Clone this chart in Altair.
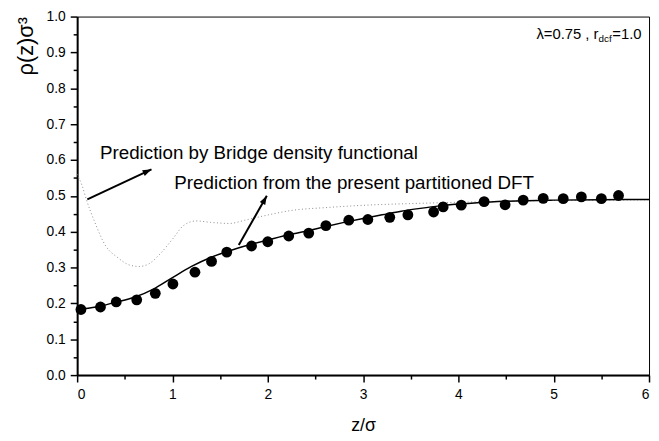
import altair as alt
import pandas as pd

# Scatter (simulation) points
dots_x = [0.04, 0.245, 0.41, 0.625, 0.82, 1.005, 1.236, 1.41, 1.57, 1.83, 2.0, 2.22, 2.43, 2.61,
          2.85, 3.05, 3.28, 3.47, 3.74, 3.84, 4.03, 4.27, 4.49, 4.68, 4.89, 5.1, 5.29, 5.5, 5.68]
dots_y = [0.183, 0.19, 0.204, 0.21, 0.228, 0.254, 0.287, 0.317, 0.343, 0.36, 0.372, 0.388, 0.396, 0.417,
          0.432, 0.434, 0.44, 0.447, 0.455, 0.469, 0.474, 0.484, 0.475, 0.488, 0.493, 0.492, 0.497, 0.492, 0.501]

# Present partitioned DFT (solid)
pdft_x = [0.0, 0.2, 0.4, 0.6, 0.8, 1.0, 1.2, 1.4, 1.6, 1.8, 2.0, 2.2, 2.4, 2.6, 2.8, 3.0, 3.2, 3.4,
          3.6, 3.8, 4.0, 4.2, 4.5, 5.0, 5.5, 6.0]
pdft_y = [0.183, 0.19, 0.203, 0.217, 0.24, 0.272, 0.303, 0.328, 0.347, 0.363, 0.377, 0.39, 0.401, 0.414,
          0.426, 0.437, 0.447, 0.457, 0.465, 0.472, 0.477, 0.481, 0.485, 0.488, 0.489, 0.49]

# Bridge density functional (dotted)
bdf_x = [0.0, 0.05, 0.1, 0.18, 0.3, 0.42, 0.55, 0.65, 0.75, 0.87, 1.0, 1.12, 1.25, 1.4, 1.6, 1.76,
         1.94, 2.27, 2.6, 2.96, 3.58, 4.0, 4.5, 5.0, 5.5, 6.0]
bdf_y = [0.56, 0.53, 0.487, 0.43, 0.36, 0.329, 0.307, 0.303, 0.31, 0.338, 0.379, 0.418, 0.43, 0.426,
         0.423, 0.432, 0.443, 0.46, 0.467, 0.473, 0.479, 0.482, 0.485, 0.487, 0.488, 0.489]

# Annotations
notes_text = ["Prediction by Bridge density functional", "Prediction from the present partitioned DFT"]
notes_x = [0.24, 1.02]
notes_y = [0.618, 0.536]

arrow_x = [0.107, 1.696]
arrow_y = [0.49, 0.363]
arrow_x2 = [0.78, 1.99]
arrow_y2 = [0.574, 0.5]
arrow_angle = [65, 29]

param_x = [5.47]
param_y = [0.95]

x_ticks = [i * 0.5 for i in range(13)]
y_ticks = [round(i * 0.05, 2) for i in range(21)]

FONT = "Liberation Sans"

xs = alt.Scale(domain=[0, 6], nice=False, zero=False)
ys = alt.Scale(domain=[0, 1], nice=False, zero=False)

Y_MAJOR = "abs(datum.value * 10 - round(datum.value * 10)) < 0.001"

x_axis = alt.Axis(
    values=x_ticks, title="z/σ", titleFont=FONT, titleFontSize=18, titleFontWeight="normal",
    titleColor="black", titleY=51, titleBaseline="middle",
    labelExpr="datum.value % 1 == 0 ? format(datum.value, 'd') : ''",
    labelFont=FONT, labelFontSize=14, labelColor="black", labelPadding=6, labelOverlap=False,
    tickSize={"condition": {"test": "datum.value % 1 == 0", "value": 7}, "value": 4},
    tickColor="black", tickWidth=1.5, domainColor="black", domainWidth=2, grid=False,
)
y_axis = alt.Axis(
    values=y_ticks, title="ρ(z)σ³", titleFont=FONT, titleFontSize=22, titleFontWeight="normal",
    titleColor="black", titleAnchor="end", titleAngle=270, titleAlign="right",
    titleX=-52, titleY=0, titleBaseline="middle",
    labelExpr=Y_MAJOR + " ? format(datum.value, '.1f') : ''",
    labelFont=FONT, labelFontSize=14, labelColor="black", labelPadding=5, labelOverlap=False,
    tickSize={"condition": {"test": Y_MAJOR, "value": 7}, "value": 4},
    tickColor="black", tickWidth=1.5, domainColor="black", domainWidth=2, grid=False,
)

X = alt.X("x:Q", scale=xs, axis=x_axis)
Y = alt.Y("y:Q", scale=ys, axis=y_axis)

dots_df = pd.DataFrame({"x": dots_x, "y": dots_y})
pdft_df = pd.DataFrame({"x": pdft_x, "y": pdft_y})
bdf_df = pd.DataFrame({"x": bdf_x, "y": bdf_y})
notes_df = pd.DataFrame({"x": notes_x, "y": notes_y, "t": notes_text})
arrows_df = pd.DataFrame({"x": arrow_x, "y": arrow_y, "x2": arrow_x2, "y2": arrow_y2, "ang": arrow_angle})
heads_df = pd.DataFrame({"x": arrow_x2, "y": arrow_y2, "ang": arrow_angle})
param_df = pd.DataFrame({"x": param_x, "y": param_y})

bdf = alt.Chart(bdf_df).mark_line(color="#8a8a8a", strokeWidth=1, strokeDash=[1, 2.5], interpolate="monotone").encode(
    x=X, y=Y
)
pdft = alt.Chart(pdft_df).mark_line(color="black", strokeWidth=1.5, interpolate="monotone").encode(x=X, y=Y)
dots = alt.Chart(dots_df).mark_circle(color="black", size=120, opacity=1).encode(x=X, y=Y)
notes = alt.Chart(notes_df).mark_text(align="left", baseline="middle", font=FONT, fontSize=19, color="black").encode(
    x=X, y=Y, text="t:N"
)
shafts = alt.Chart(arrows_df).mark_rule(color="black", strokeWidth=2).encode(x=X, y=Y, x2="x2:Q", y2="y2:Q")
heads = alt.Chart(heads_df).mark_point(
    shape="M0,0 L0.35,1 L-0.35,1 Z", filled=True, color="black", size=324, opacity=1
).encode(x=X, y=Y, angle=alt.Angle("ang:Q", scale=None))
p1 = alt.Chart(param_df).mark_text(align="right", baseline="middle", font=FONT, fontSize=15, color="black").encode(
    x=X, y=Y, text=alt.value("λ=0.75 , r")
)
p2 = alt.Chart(param_df).mark_text(align="left", baseline="middle", font=FONT, fontSize=10, color="black", dy=5).encode(
    x=X, y=Y, text=alt.value("dcf")
)
p3 = alt.Chart(param_df).mark_text(align="left", baseline="middle", font=FONT, fontSize=15, color="black", dx=14).encode(
    x=X, y=Y, text=alt.value("=1.0")
)

chart = alt.layer(bdf, pdft, dots, shafts, heads, notes, p1, p2, p3).properties(
    width=579, height=363,
    autosize=alt.AutoSizeParams(type="none"),
    padding={"left": 70, "top": 6, "right": 2, "bottom": 60},
    background="white",
).configure_view(stroke="black", strokeWidth=1).configure_axis(labelOverlap=False)

chart.save("out.html", embed_options={"renderer": "svg", "actions": False})
